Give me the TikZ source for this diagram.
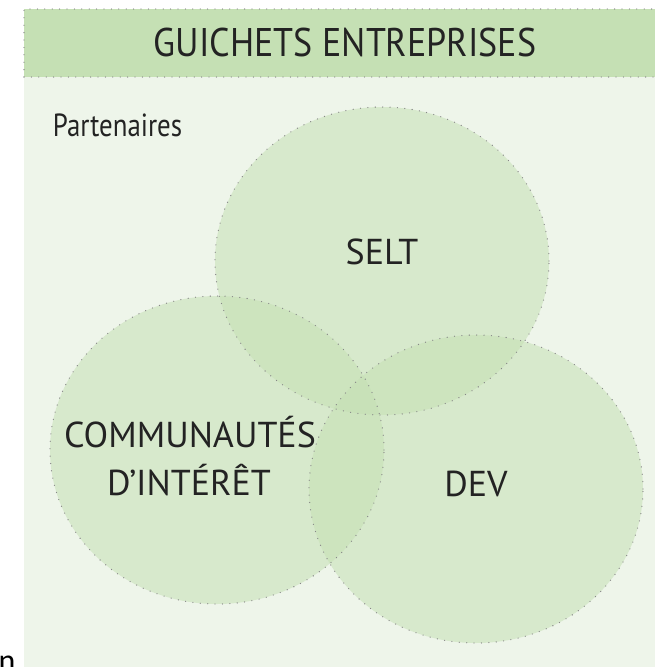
\documentclass[tikz,border=0pt]{standalone}
\usepackage{fontspec}
\setmainfont{PT Sans}
\newfontfamily\strayfont{Carlito}
\usetikzlibrary{shapes.geometric}

\definecolor{bandgreen}{RGB}{197,224,180}
\definecolor{palegreen}{RGB}{238,245,234}
\definecolor{dotgrey}{RGB}{135,135,135}
\definecolor{inkgrey}{RGB}{35,35,35}

\tikzset{
    rim/.style={dotgrey, line width=1.3pt, line cap=round, dash pattern=on 0pt off 7.4pt},
    zone/.style={ellipse, inner sep=0pt, minimum width=334pt, minimum height=308pt,
        fill=bandgreen, fill opacity=0.55},
    caps/.style={inkgrey, font=\fontsize{36}{40}\selectfont, anchor=base},
}

\begin{document}
\begin{tikzpicture}[x=1pt, y=-1pt]

    \useasboundingbox (0,0) rectangle (655,667);

    \fill[palegreen] (24,9) rectangle (655,667);
    \fill[bandgreen] (24,9) rectangle (655,77);
    \draw[rim] (24,77) -- (24,9) -- (655,9);
    \draw[rim] (24,77) -- (655,77);

    \node[inkgrey, anchor=base, font=\fontsize{40}{44}\selectfont, xscale=0.9] (title) at (345,56) {GUICHETS ENTREPRISES};
    \node[inkgrey, anchor=base west, font=\fontsize{32}{36}\selectfont, xscale=0.84] (partners) at (50,136) {Partenaires};

    % the three rings
    \node[zone] (seltzone) at (382,261) {};
    \node[zone] (commzone) at (217,450) {};
    \node[zone] (devzone) at (476,489) {};

    \foreach \z in {seltzone, commzone, devzone}
        \draw[rim] (\z.center) ellipse [x radius=167pt, y radius=154pt];

    \node[caps] (selt) at (382,264) {SELT};
    \node[caps] (comm) at (190,447) {COMMUNAUTÉS};
    \node[caps] (interest) at (189,495) {D'INTÉRÊT};
    \node[caps] (dev) at (476,496) {DEV};

    \node[black, anchor=base west, font=\strayfont\fontsize{32}{36}\selectfont] (stray) at (-5,671) {n};

\end{tikzpicture}
\end{document}
